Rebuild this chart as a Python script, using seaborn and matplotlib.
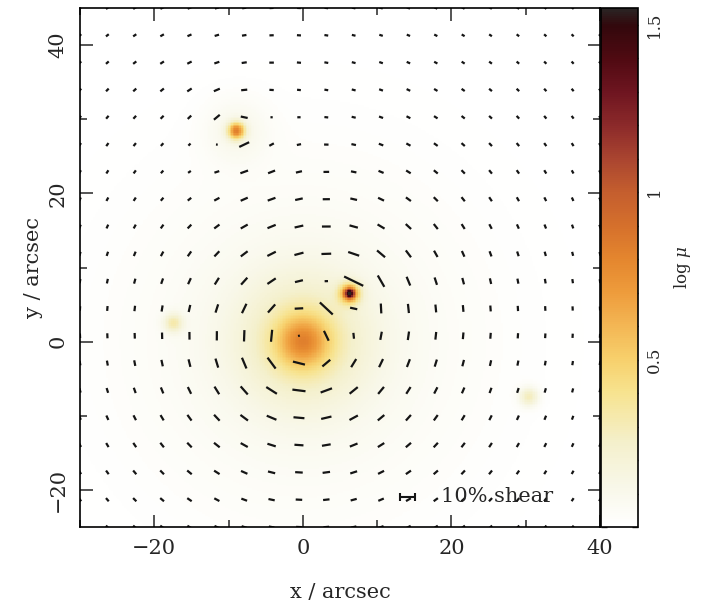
import numpy as np
import matplotlib
matplotlib.use("Agg")
import matplotlib.pyplot as plt
import seaborn as sns
from matplotlib.colors import LinearSegmentedColormap
from matplotlib.collections import LineCollection
from matplotlib.ticker import MultipleLocator

# magnification map: blobs of log mu (x, y in arcsec)
blob_x = [0.0, 0.0, 0.0, 6.3, 6.3, -9.0, -9.0, -17.5, 30.5]
blob_y = [0.0, 0.0, 0.0, 6.5, 6.5, 28.5, 28.5, 2.5, -7.5]
blob_amp = [0.45, 0.28, 0.10, 0.60, 0.95, 0.72, 0.10, 0.28, 0.28]
blob_sigma = [2.4, 6.0, 16.0, 1.0, 0.45, 0.8, 3.0, 0.9, 0.9]

# lens components driving the shear sticks
lens_x = [0.0, 6.3, -9.0]
lens_y = [0.0, 6.5, 28.5]
lens_amp = [0.8, 0.2, 0.1]
lens_core = [5.0, 0.8, 0.8]

# stick grid (20 x 20 over the full frame)
grid_x = np.linspace(-30, 40, 20)
grid_y = np.linspace(-25, 45, 20)

# colour scale log mu
cmap_levels = [0.0, 0.12, 0.25, 0.4, 0.5, 0.6, 0.7, 0.8, 0.9, 1.0, 1.1, 1.2, 1.3, 1.4, 1.5, 1.55]
cmap_colors = ["#ffffff", "#f8f7e8", "#f4f0cc", "#f7e38f", "#f7d06c", "#f3b654", "#ee9c3c",
               "#e4862e", "#d5702c", "#c45e2e", "#aa4530", "#8c2a2a", "#6e1520", "#500a12",
               "#32080c", "#2a2424"]

sns.set_theme(style="ticks")
plt.rcParams["font.family"] = ["DejaVu Serif"]
plt.rcParams["mathtext.fontset"] = "dejavuserif"

vmax = cmap_levels[-1]
cmap = LinearSegmentedColormap.from_list(
    "logmu", list(zip([v / vmax for v in cmap_levels], cmap_colors)))

# build the map
n = 320
xc = np.linspace(-30, 40, n)
yc = np.linspace(-25, 45, n)
X, Y = np.meshgrid(xc, yc)
Z = np.zeros_like(X)
for bx, by, ba, bs in zip(blob_x, blob_y, blob_amp, blob_sigma):
    Z += ba * np.exp(-((X - bx) ** 2 + (Y - by) ** 2) / (2 * bs ** 2))

fig = plt.figure(figsize=(7.01, 6.08), dpi=100)
rect = [80 / 701, 81 / 608, 520 / 701, 519 / 608]
ax_map = fig.add_axes(rect)
cax = fig.add_axes([601 / 701, 81 / 608, 37 / 701, 519 / 608])

sns.heatmap(Z[::-1], ax=ax_map, cmap=cmap, vmin=0, vmax=vmax, cbar_ax=cax,
            xticklabels=False, yticklabels=False, rasterized=True)
ax_map.set_axis_off()

# shear sticks
GX, GY = np.meshgrid(grid_x, grid_y)
gamma = np.zeros_like(GX, dtype=complex)
for lx, ly, la, lc in zip(lens_x, lens_y, lens_amp, lens_core):
    dx, dy = GX - lx, GY - ly
    r = np.hypot(dx, dy)
    g = la * r / (r ** 2 + lc ** 2)
    gamma += -g * np.exp(2j * np.arctan2(dy, dx))
theta = 0.5 * np.angle(gamma)
half = 0.5 * 20.0 * np.maximum(np.abs(gamma), 0.012)  # 10% shear = 2 arcsec
segs = np.stack([
    np.stack([GX - half * np.cos(theta), GY - half * np.sin(theta)], axis=-1),
    np.stack([GX + half * np.cos(theta), GY + half * np.sin(theta)], axis=-1),
], axis=-2).reshape(-1, 2, 2)

ax = fig.add_axes(rect)
ax.patch.set_alpha(0)
ax.add_collection(LineCollection(segs, colors="#151515", linewidths=1.6, capstyle="butt"))
ax.set_xlim(-30, 40)
ax.set_ylim(-25, 45)

# scale bar
ax.errorbar([14.05], [-20.9], xerr=[1.0], fmt="none", ecolor="#151515", elinewidth=1.5,
            capsize=3, capthick=1.5)
ax.text(18.6, -20.9, "10% shear", fontsize=15, va="center", ha="left")

ax.set_xticks([-20, 0, 20, 40])
ax.set_yticks([-20, 0, 20, 40])
ax.xaxis.set_minor_locator(MultipleLocator(10))
ax.yaxis.set_minor_locator(MultipleLocator(10))
ax.tick_params(which="both", direction="in", top=True, right=True, labelsize=15, width=1.1)
ax.tick_params(which="major", length=9, pad=9)
ax.tick_params(which="minor", length=5)
for lbl in ax.get_yticklabels():
    lbl.set_rotation(90)
    lbl.set_va("center")
ax.set_xlabel("x / arcsec", fontsize=15, labelpad=18)
ax.set_ylabel("y / arcsec", fontsize=15, labelpad=4)
for sp in ax.spines.values():
    sp.set_linewidth(1.2)
    sp.set_color("black")

# colour bar
cb = ax_map.collections[0].colorbar
cb.outline.set_linewidth(1.2)
cb.outline.set_edgecolor("black")
cb.set_ticks([0.5, 1.0, 1.5])
cb.set_ticklabels(["0.5", "1", "1.5"])
cax.yaxis.set_minor_locator(MultipleLocator(0.1))
cax.tick_params(which="both", direction="in", left=True, right=True, labelsize=12, width=1.0)
cax.tick_params(which="major", length=6, pad=6)
cax.tick_params(which="minor", length=4)
for lbl in cax.get_yticklabels():
    lbl.set_rotation(90)
    lbl.set_va("center")
cax.set_ylabel(r"log $\mu$", fontsize=12, rotation=90, labelpad=6)

fig.savefig("out.png", dpi=100, facecolor="white")
